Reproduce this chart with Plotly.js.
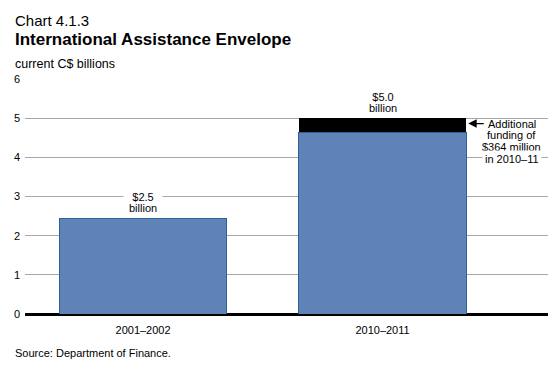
<!DOCTYPE html>
<html>
<head>
<meta charset="utf-8">
<script src="https://cdn.plot.ly/plotly-3.0.1.min.js"></script>
<style>html,body{margin:0;padding:0;background:#fff;}#chart{width:560px;height:368px;}</style>
</head>
<body>
<div id="chart"></div>
<script>
// ---- data ----
const categories = ["2001–2002", "2010–2011"];
const baseValues = [2.45, 4.64];          // blue portion (C$ billions)
const additionalValues = [0, 0.364];      // additional funding 2010-11
const totalLabels = [["$2.5", "billion"], ["$5.0", "billion"]];
const noteLines = ["Additional", "funding of", "$364 million", "in 2010–11"];
const yTicks = [0, 1, 2, 3, 4, 5, 6];

const FONT = "Liberation Sans, Arial, Helvetica, sans-serif";
const barWidth = 0.70;

const traces = [
  {
    type: "bar", x: [0, 1], y: baseValues, width: barWidth,
    marker: {color: "#6083b7", line: {color: "#2d5f9c", width: 1}},
    hoverinfo: "skip"
  },
  {
    type: "bar", x: [0, 1], y: additionalValues, width: barWidth,
    marker: {color: "#000000", line: {color: "#000000", width: 0}},
    hoverinfo: "skip"
  }
];

const annotations = [];
// total labels above each bar
categories.forEach((c, i) => {
  const total = baseValues[i] + additionalValues[i];
  const n = totalLabels[i].length;
  totalLabels[i].forEach((t, j) => {
    annotations.push({
      x: i, y: total, xref: "x", yref: "y", text: t, showarrow: false,
      xanchor: "center", yanchor: "middle",
      yshift: 10 + (n - 1 - j) * 11.5,
      font: {family: FONT, size: 11, color: "#000"},
      bgcolor: j === 0 ? "#fff" : "rgba(0,0,0,0)", borderpad: 0,
      width: j === 0 ? 38 : null
    });
  });
});
// arrow pointing at the additional funding segment
const addIdx = 1;
const segMid = baseValues[addIdx] + additionalValues[addIdx] / 2;
annotations.push({
  x: addIdx + barWidth / 2 + 0.008, y: segMid + 0.04, xref: "x", yref: "y",
  text: "", showarrow: true, arrowhead: 2, arrowsize: 1.4, arrowwidth: 1.2,
  arrowcolor: "#000", ax: 17, ay: 0, standoff: 0
});
noteLines.forEach((t, j) => {
  const last = j === noteLines.length - 1;
  annotations.push({
    x: addIdx + barWidth / 2 + 0.19, y: segMid + 0.04, xref: "x", yref: "y",
    text: t, showarrow: false, xanchor: "center", yanchor: "middle",
    yshift: -j * 11.7,
    font: {family: FONT, size: 11, color: "#000"},
    bgcolor: last ? "#fff" : "rgba(0,0,0,0)", borderpad: 2
  });
});
// header texts
const leftX = -12 / 523;
annotations.push(
  {xref: "paper", yref: "paper", x: leftX, y: 1, yshift: 79 - 20.5, xanchor: "left", yanchor: "middle",
   text: "Chart 4.1.3", showarrow: false, font: {family: FONT, size: 15, color: "#000"}},
  {xref: "paper", yref: "paper", x: leftX, y: 1, yshift: 79 - 39, xanchor: "left", yanchor: "middle",
   text: "<b>International Assistance Envelope</b>", showarrow: false, font: {family: FONT, size: 17, color: "#000"}},
  {xref: "paper", yref: "paper", x: leftX, y: 1, yshift: 79 - 63.5, xanchor: "left", yanchor: "middle",
   text: "current C$ billions", showarrow: false, font: {family: FONT, size: 12.5, color: "#000"}},
  {xref: "paper", yref: "paper", x: leftX, y: 0, yshift: -(353 - 314), xanchor: "left", yanchor: "middle",
   text: "Source: Department of Finance.", showarrow: false, font: {family: FONT, size: 11, color: "#000"}}
);

const layout = {
  width: 560, height: 368,
  margin: {l: 25, r: 12, t: 79, b: 54, pad: 0},
  paper_bgcolor: "#fff", plot_bgcolor: "#fff",
  barmode: "stack", showlegend: false,
  font: {family: FONT, size: 11, color: "#000"},
  xaxis: {
    range: [-0.493, 1.691], tickvals: [0, 1], ticktext: categories,
    showgrid: false, zeroline: false, showline: false, ticks: "",
    tickfont: {family: FONT, size: 11, color: "#000"}, ticklabelstandoff: 8
  },
  yaxis: {
    range: [0, 6], tickvals: yTicks, showgrid: true, gridcolor: "#a8a8a8", gridwidth: 1,
    zeroline: true, zerolinecolor: "#000", zerolinewidth: 3, showline: false, ticks: "",
    tickfont: {family: FONT, size: 11, color: "#000"}, ticklabelstandoff: 4
  },
  annotations: annotations
};

Plotly.newPlot("chart", traces, layout, {staticPlot: true, displayModeBar: false});
</script>
</body>
</html>
